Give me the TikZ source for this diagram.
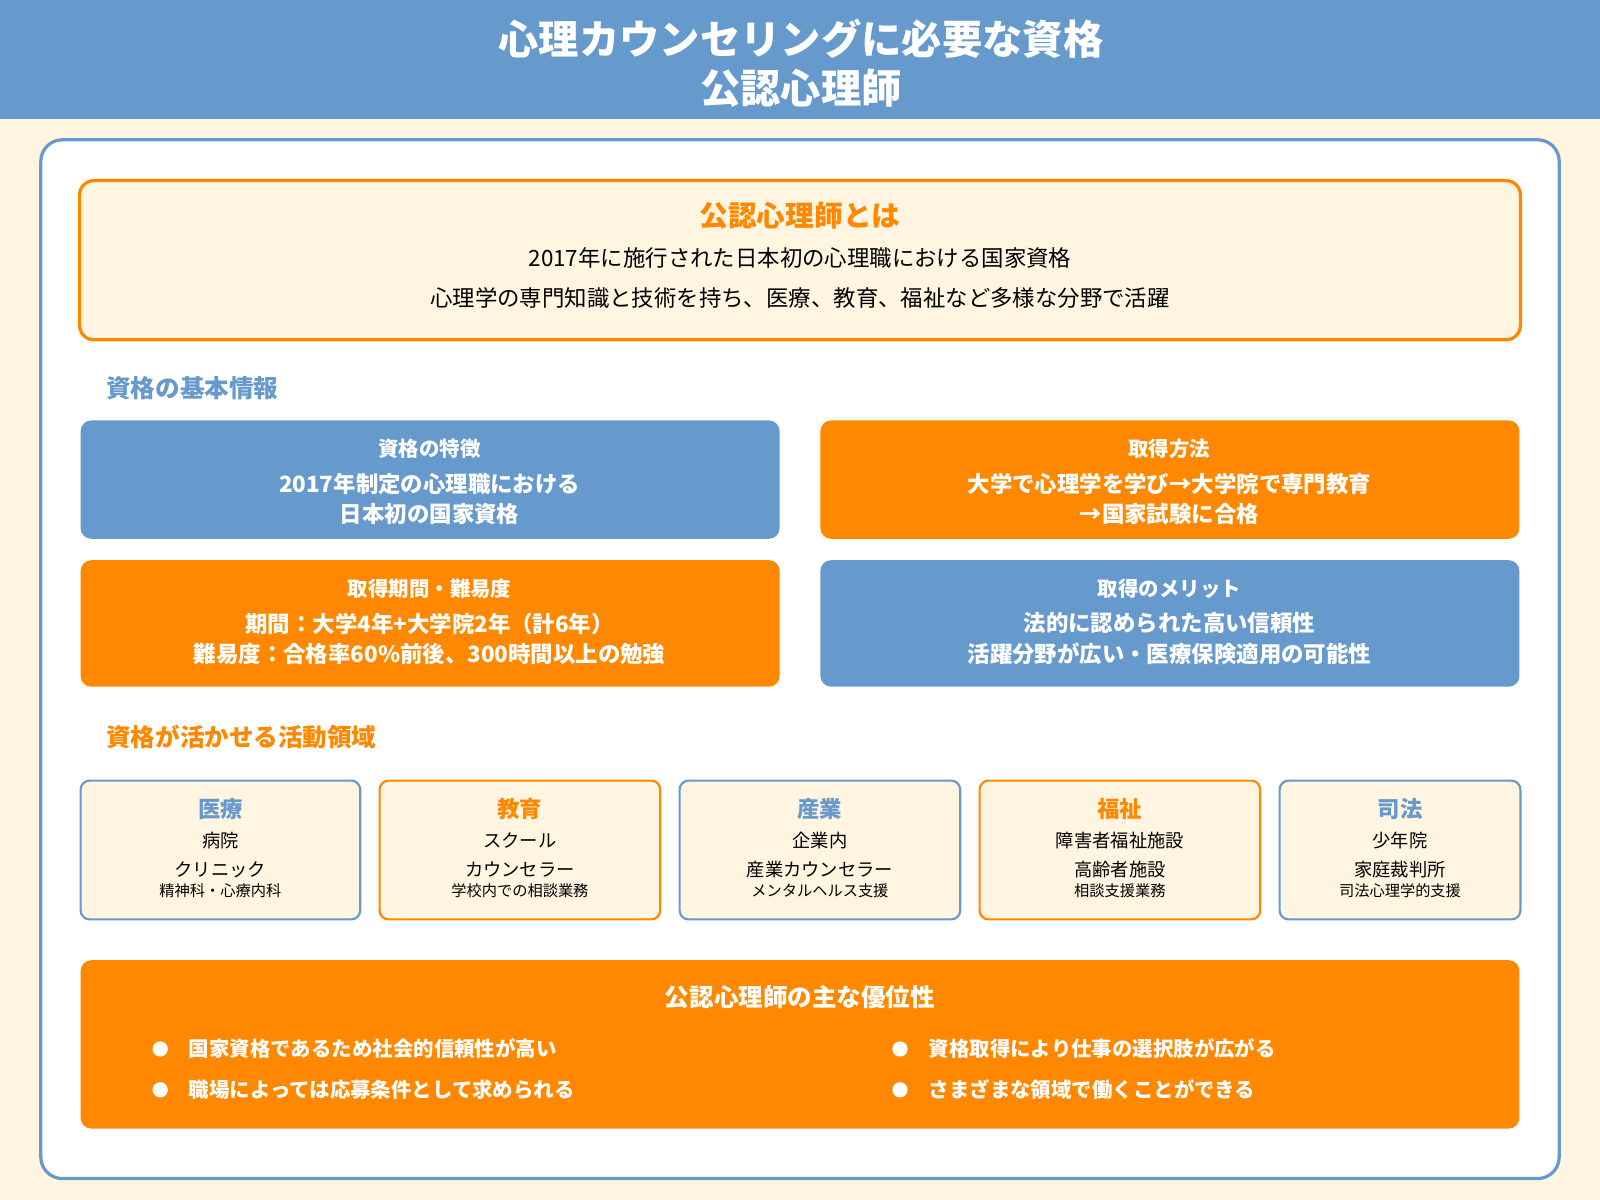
\documentclass[tikz,border=0pt]{standalone}
\usepackage{fontspec}
\setmainfont{Noto Sans CJK JP}
\usetikzlibrary{positioning}
\definecolor{cream}{HTML}{FFF5E1}
\definecolor{hblue}{HTML}{6699CC}
\definecolor{horange}{HTML}{FF8800}
\tikzset{
  infobox/.style={rounded corners=6pt,draw=none},
  fieldbox/.style={rounded corners=5pt,line width=1.2pt,fill=cream},
  boxtitle/.style={text=white,font=\fontsize{11.4}{14}\selectfont\bfseries},
  boxtext/.style={text=white,align=center,font=\fontsize{12.5}{17}\selectfont\bfseries},
  fieldtitle/.style={font=\fontsize{12.5}{15}\selectfont\bfseries},
  fieldtext/.style={font=\fontsize{10.2}{12}\selectfont},
  fieldsmall/.style={font=\fontsize{8.5}{10}\selectfont},
  bullettext/.style={anchor=west,text=white,font=\fontsize{11.4}{14}\selectfont\bfseries},
}
\begin{document}
\begin{tikzpicture}[x=0.02cm,y=-0.02cm]
\fill[cream] (0,0) rectangle (1568,1176);
\useasboundingbox (0,0) rectangle (1568,1176);
% header
\fill[hblue] (0,0) rectangle (1568,117);
\node[text=white,align=center,font=\fontsize{22.5}{27}\selectfont\bfseries] (title) at (785,62) {心理カウンセリングに必要な資格\\公認心理師};
% main panel
\draw[hblue,line width=1.8pt,fill=white,rounded corners=12pt] (40,137) rectangle (1528,1155);
% intro box
\draw[horange,line width=1.8pt,fill=cream,rounded corners=8pt] (78,177) rectangle (1490,333);
\node[text=horange,font=\fontsize{16}{19}\selectfont\bfseries] (introtitle) at (784,211) {公認心理師とは};
\node[font=\fontsize{12.5}{15}\selectfont] (intro1) at (784,253) {2017年に施行された日本初の心理職における国家資格};
\node[font=\fontsize{12.5}{15}\selectfont] (intro2) at (784,292) {心理学の専門知識と技術を持ち、医療、教育、福祉など多様な分野で活躍};
% basic info
\node[anchor=west,text=hblue,font=\fontsize{13.7}{16}\selectfont\bfseries] (basic) at (98,380) {資格の基本情報};
\fill[infobox,hblue] (79,412) rectangle (764,528);
\node[boxtitle] (feat) at (421,440) {資格の特徴};
\node[boxtext] (featx) at (421,489) {2017年制定の心理職における\\日本初の国家資格};
\fill[infobox,horange] (804,412) rectangle (1489,528);
\node[boxtitle] (method) at (1146,440) {取得方法};
\node[boxtext] (methodx) at (1146,489) {大学で心理学を学び→大学院で専門教育\\→国家試験に合格};
\fill[infobox,horange] (79,549) rectangle (764,673);
\node[boxtitle] (term) at (421,577) {取得期間・難易度};
\node[boxtext] (termx) at (421,626) {期間：大学4年+大学院2年（計6年）\\難易度：合格率60\%前後、300時間以上の勉強};
\fill[infobox,hblue] (804,549) rectangle (1489,673);
\node[boxtitle] (merit) at (1146,577) {取得のメリット};
\node[boxtext] (meritx) at (1146,626) {法的に認められた高い信頼性\\活躍分野が広い・医療保険適用の可能性};
% fields
\node[anchor=west,text=horange,font=\fontsize{13.7}{16}\selectfont\bfseries] (fields) at (98,722) {資格が活かせる活動領域};
\foreach \xa/\xb/\col/\ttl/\la/\lb/\lc [count=\i] in {
  79/353/hblue/医療/病院/クリニック/精神科・心療内科,
  372/647/horange/教育/スクール/カウンセラー/学校内での相談業務,
  666/941/hblue/産業/企業内/産業カウンセラー/メンタルヘルス支援,
  960/1235/horange/福祉/障害者福祉施設/高齢者施設/相談支援業務,
  1254/1490/hblue/司法/少年院/家庭裁判所/司法心理学的支援}{
  \draw[fieldbox,draw=\col] (\xa,765) rectangle (\xb,901);
  \node[fieldtitle,text=\col] (f\i) at ({(\xa+\xb)/2},793) {\ttl};
  \node[fieldtext] (fa\i) at ({(\xa+\xb)/2},824) {\la};
  \node[fieldtext] (fb\i) at ({(\xa+\xb)/2},852) {\lb};
  \node[fieldsmall] (fc\i) at ({(\xa+\xb)/2},873) {\lc};
}
% advantages
\fill[infobox,horange] (79,941) rectangle (1489,1106);
\node[text=white,font=\fontsize{13.7}{16}\selectfont\bfseries] (adv) at (784,977) {公認心理師の主な優位性};
\foreach \x/\y/\txt [count=\i] in {
  157/1028/国家資格であるため社会的信頼性が高い,
  157/1068/職場によっては応募条件として求められる,
  882/1028/資格取得により仕事の選択肢が広がる,
  882/1068/さまざまな領域で働くことができる}{
  \fill[white] (\x,\y) circle (7.5);
  \node[bullettext] (b\i) at (\x+22,\y) {\txt};
}
\end{tikzpicture}
\end{document}
